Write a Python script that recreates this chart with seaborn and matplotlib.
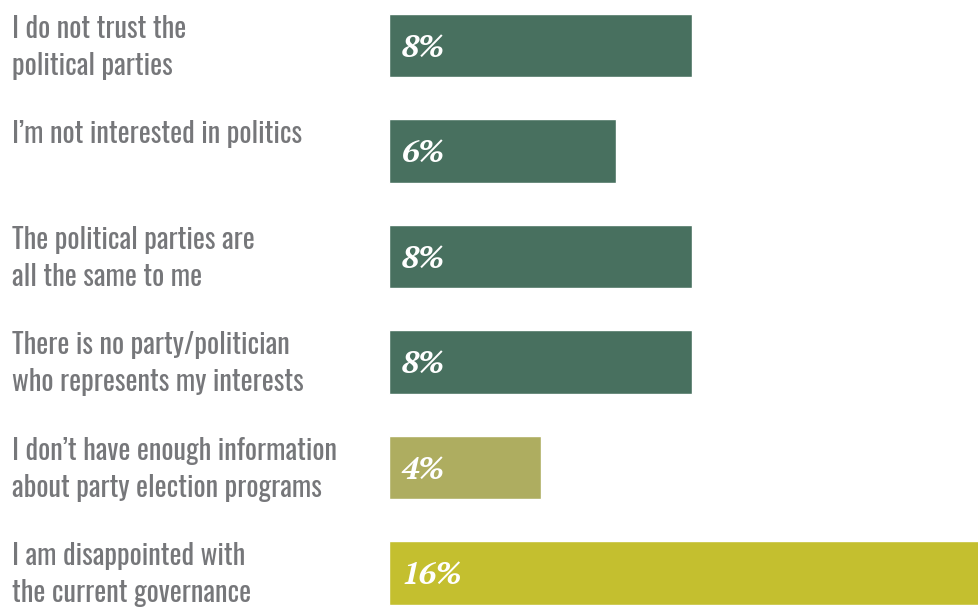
import matplotlib
matplotlib.use("Agg")
import matplotlib.pyplot as plt
import matplotlib.transforms as mtrans
import seaborn as sns
import pandas as pd

categories = [
    "I do not trust the\npolitical parties",
    "I\u2019m not interested in politics",
    "The political parties are\nall the same to me",
    "There is no party/politician\nwho represents my interests",
    "I don\u2019t have enough information\nabout party election programs",
    "I am disappointed with\nthe current governance",
]
values = [8, 6, 8, 8, 4, 16]
value_labels = ["8%", "6%", "8%", "8%", "4%", "16%"]
colors = ["#48705f", "#48705f", "#48705f", "#48705f", "#aead60", "#c4bf2f"]

sns.set_theme(style="white")
W, H = 979, 610
fig = plt.figure(figsize=(W / 100, H / 100), dpi=100)
ax = fig.add_axes([389 / W, 0, (W - 389) / W, 1])

df = pd.DataFrame({"cat": categories, "val": values})
sns.barplot(data=df, y="cat", x="val", hue="cat", palette=colors, orient="h",
            width=0.6, legend=False, ax=ax, saturation=1)

step, first = 105.5, 45.5
ax.set_xlim(0, (W - 389) / 37.9)
ax.set_ylim((H - first) / step, -first / step)
ax.axis("off")

label_font = ["Oswald", "DejaVu Sans"]
trans = mtrans.blended_transform_factory(fig.transFigure, ax.transData)
for i, (cat, v, lab) in enumerate(zip(categories, values, value_labels)):
    ax.text(12 / W, i - 0.29, cat, transform=trans, ha="left", va="top",
            fontsize=20.5, color="#76777a", family=label_font,
            linespacing=1.38)
    ax.text(0.33, i + 0.02, lab, ha="left", va="center", fontsize=22.5, color="white",
            family=["PT Serif", "DejaVu Serif"], fontweight="bold",
            fontstyle="italic")

fig.savefig("out.png", dpi=100)
